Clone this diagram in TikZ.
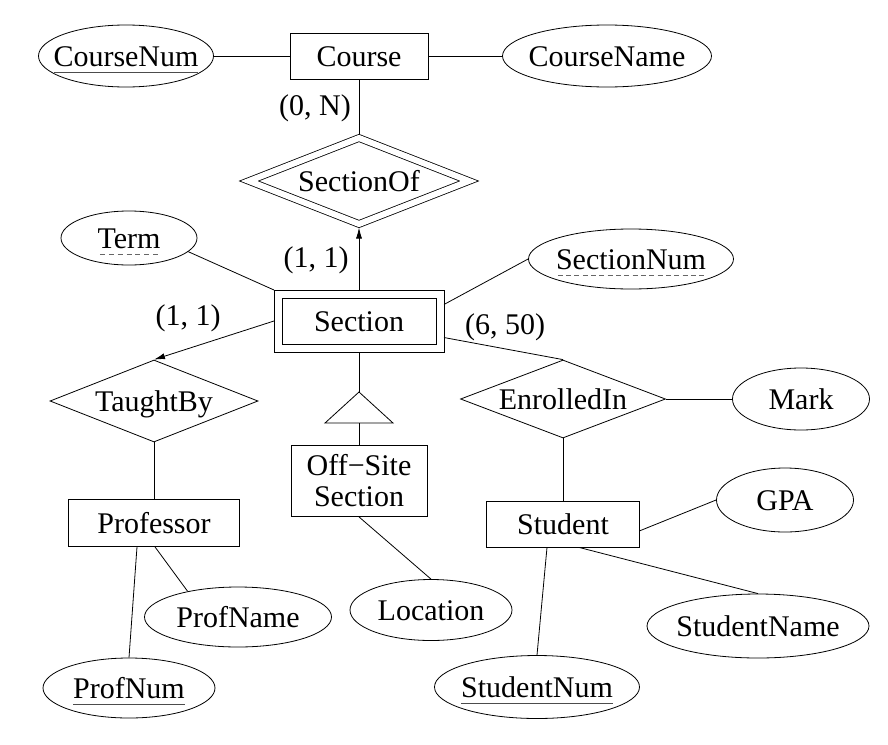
\documentclass[tikz,border=0pt]{standalone}
\usepackage{fontspec}
\setmainfont{Liberation Serif}
\usetikzlibrary{arrows.meta,shapes.geometric}
\newcommand\erfont{\fontsize{30}{31}\selectfont}
\newcommand\keyattr[1]{\sbox0{#1}\rlap{\smash{\color{black!70}\rule[-7pt]{\wd0}{0.8pt}}}\usebox0}
\newcommand\partkey[1]{\sbox0{#1}\rlap{\smash{\color{black!60}\hbox to\wd0{\xleaders\hbox to 8pt{\hss\rule[-7pt]{5pt}{0.8pt}\hss}\hfill}}}\usebox0}
\tikzset{
  ertext/.style={font=\erfont,text height=21pt,text depth=1pt},
  entity/.style={draw,rectangle,inner sep=2pt,ertext},
  weakentity/.style={entity,outer sep=0pt},
  isabox/.style={draw,rectangle,inner sep=2pt,font=\erfont,align=center},
  rel/.style={draw,diamond,aspect=2.5,inner sep=0pt,ertext},
  weakrel/.style={rel,double,double distance=6pt,outer sep=0pt},
  attr/.style={draw,ellipse,inner xsep=-60pt,inner ysep=0pt,ertext},
  card/.style={font=\erfont,inner sep=0pt},
  link/.style={line width=0.8pt},
  ar/.style={link,-{Latex[length=11pt,width=6pt]}},
}
\begin{document}
\begin{tikzpicture}[x=1pt,y=-1pt,line width=0.8pt]
  \useasboundingbox (0,0) rectangle (888,744);
  \node[entity,minimum width=138pt,minimum height=46pt] (course) at (359,56) {Course};
  \node[attr,minimum width=175pt,minimum height=62pt] (coursenum) at (126,56) {\keyattr{CourseNum}};
  \node[attr,minimum width=209pt,minimum height=62pt] (coursename) at (607,56) {CourseName};
  \node[weakrel,minimum width=220pt,minimum height=86pt] (sectionof) at (359,181) {SectionOf};
  \node[weakentity,minimum width=170pt,minimum height=62pt] (section) at (359,321) {Section};
  \draw ([xshift=8pt,yshift=-8pt]section.north west) rectangle ([xshift=-8pt,yshift=8pt]section.south east);
  \node[attr,minimum width=136pt,minimum height=54pt] (term) at (129,238) {\partkey{Term}};
  \node[attr,minimum width=205pt,minimum height=60pt] (sectionnum) at (631,259) {\partkey{SectionNum}};
  \node[rel,minimum width=208pt,minimum height=82pt] (taughtby) at (154,401) {TaughtBy};
  \node[rel,minimum width=205pt,minimum height=78pt] (enrolledin) at (563,399) {EnrolledIn};
  \node[attr,minimum width=137pt,minimum height=62pt] (mark) at (801,399) {Mark};
  \node[isabox,minimum width=136pt,minimum height=71pt] (offsite) at (359,481) {Off−Site\\Section};
  \node[attr,minimum width=162pt,minimum height=61pt] (location) at (431,610) {Location};
  \node[entity,minimum width=171pt,minimum height=47pt] (professor) at (154,523) {Professor};
  \node[attr,minimum width=187pt,minimum height=60pt] (profname) at (238,617) {ProfName};
  \node[attr,minimum width=172pt,minimum height=60pt] (profnum) at (129,688) {\keyattr{ProfNum}};
  \node[entity,minimum width=153pt,minimum height=46pt] (student) at (563,524) {Student};
  \node[attr,minimum width=137pt,minimum height=64pt] (gpa) at (785,500) {GPA};
  \node[attr,minimum width=222pt,minimum height=64pt] (studentname) at (758,626) {StudentName};
  \node[attr,minimum width=205pt,minimum height=63pt] (studentnum) at (537,687) {\keyattr{StudentNum}};
  \node[card] (c0n) at (315,108) {(0, N)};
  \node[card] (c11a) at (316,260) {(1, 1)};
  \node[card] (c11b) at (188,318) {(1, 1)};
  \node[card] (c650) at (505,327) {(6, 50)};
  \coordinate (isa) at (359,392);
  \coordinate (isabase) at (359,423);
  \draw[link] (coursenum) -- (course);
  \draw[link] (course) -- (coursename);
  \draw[link,shorten >=4pt] (course) -- (sectionof.north);
  \draw[ar,shorten >=3.5pt] (section.north) -- (sectionof.south);
  \draw[link] (term.-13) -- (section.north west);
  \draw[link] (section.11) -- (sectionnum.west);
  \draw[ar] (section.west) -- (taughtby.north);
  \draw[link] (section.-11) -- (enrolledin.north);
  \draw[link] (enrolledin) -- (mark);
  \draw[link] (section.south) -- (isa);
  \draw[link] (isa) -- ++(-34,31) -- ++(68,0) -- cycle;
  \draw[link] (isabase) -- (offsite.north);
  \draw[link] (offsite.south) -- (location.north);
  \draw[link] (taughtby) -- (professor);
  \draw[link] ([xshift=-17pt]professor.south) -- (profnum.north);
  \draw[link] ([xshift=1pt]professor.south) -- (profname.153);
  \draw[link] (enrolledin) -- (student);
  \draw[link] (student.-5) -- (gpa.west);
  \draw[link] ([xshift=16pt]student.south) -- (studentname.north);
  \draw[link] ([xshift=-16pt]student.south) -- (studentnum.north);
\end{tikzpicture}
\end{document}
